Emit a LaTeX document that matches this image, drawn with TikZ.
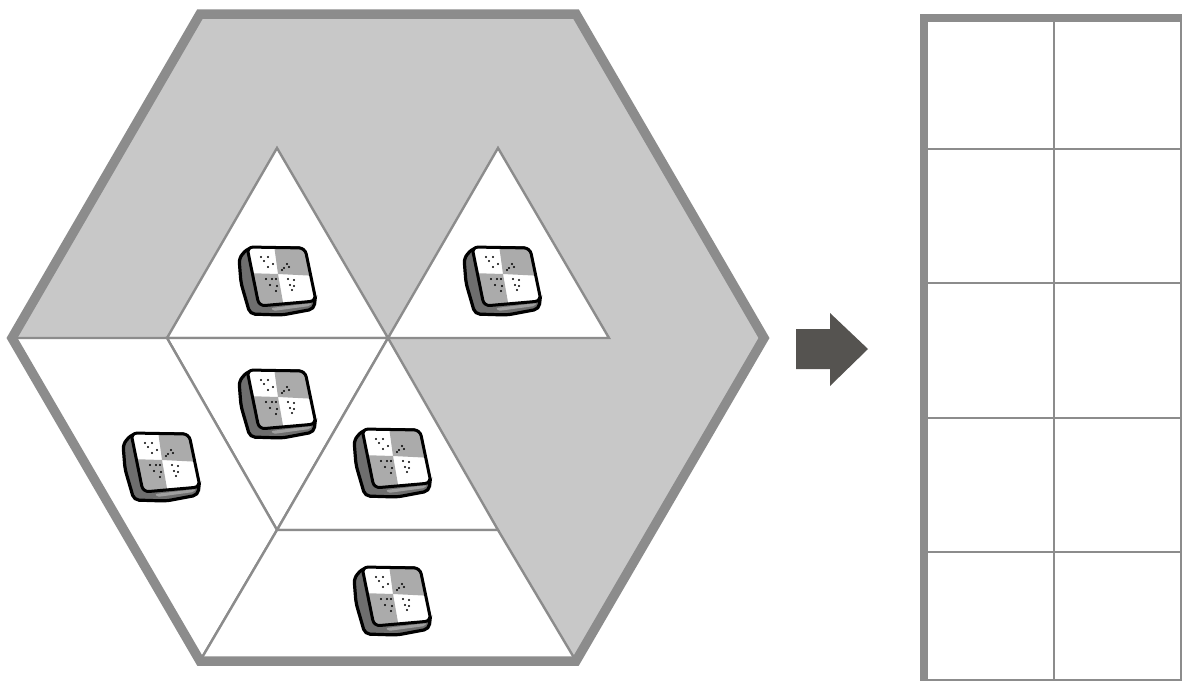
\documentclass[tikz,border=0pt]{standalone}
\tikzset{
	cell/.style={draw=gridgray, line width=2.4*0.05cm, fill=white, line join=miter},
	rim/.style={draw=gridgray, line width=8.5*0.05cm, line join=miter},
	hexrim/.style={draw=gridgray, line width=9.5*0.05cm, line join=miter},
	thinline/.style={gridgray, line width=2.4*0.05cm},
	chip/.pic={
		\filldraw[fill=chipdark, draw=black, line width=3.2*0.05cm, rounded corners=5*0.05cm] (-29,-32) -- (-38,-22) -- (-36,3) -- (-27,34) -- (5,35) -- (37,29) -- (38,20) -- (27,-32) -- cycle;
		\fill[chiplight, rounded corners=2*0.05cm] (-4,31) -- (33,26) -- (35,23) -- (-6,28) -- cycle;
		\begin{scope}
			\clip[rounded corners=6*0.05cm] (-30,-33) -- (28,-32) -- (39,21) -- (-18,26) -- cycle;
			\fill[white] (-32,-35) rectangle (41,28);
			\fill[chipgray] (-3,-35) -- (41,-35) -- (41,-4) -- (1,-6) -- cycle;
			\fill[chipgray] (1,-6) -- (-32,-7) -- (-32,28) -- (7,28) -- cycle;
		\end{scope}
		\draw[black, line width=3*0.05cm, rounded corners=6*0.05cm] (-30,-33) -- (28,-32) -- (39,21) -- (-18,26) -- cycle;
		\foreach \x/\y in {-16/-23,-9/-23,-13/-19,-4/-16,-9/-13,10/-16,12/-13,7/-12,5/-10,-11/-1,-5/-1,-1/-1,-7/5,0/6,-1/11,11/-1,17/0,13/5,17/6,15/10} \fill[black] (\x,\y) circle (1.2);
	}
}
\definecolor{gridgray}{HTML}{8C8C8C}
\definecolor{hexfill}{HTML}{C8C8C8}
\definecolor{arrowgray}{HTML}{555350}
\definecolor{chipgray}{HTML}{ABABAB}
\definecolor{chipdark}{HTML}{6E6E6E}
\definecolor{chiplight}{HTML}{A0A0A0}
\begin{document}
\begin{tikzpicture}[x=0.05cm, y=-0.05cm]
	\useasboundingbox (0,0) rectangle (1182,681);

	\coordinate (hl) at (12,338);
	\coordinate (htl) at (200,14);
	\coordinate (htr) at (576,14);
	\coordinate (hr) at (764,338);
	\coordinate (hbr) at (576,661);
	\coordinate (hbl) at (200,661);
	\coordinate (a) at (277,148);
	\coordinate (b) at (498,148);
	\coordinate (c) at (167,338);
	\coordinate (d) at (388,338);
	\coordinate (e) at (609,338);
	\coordinate (f) at (277,530);
	\coordinate (g) at (498,530);

	\fill[hexfill] (hl) -- (htl) -- (htr) -- (hr) -- (hbr) -- (hbl) -- cycle;
	\path[cell] (a) -- (c) -- (d) -- cycle;
	\path[cell] (b) -- (d) -- (e) -- cycle;
	\path[cell] (c) -- (d) -- (f) -- cycle;
	\path[cell] (d) -- (f) -- (g) -- cycle;
	\path[cell] (hl) -- (c) -- (f) -- (hbl) -- cycle;
	\path[cell] (f) -- (g) -- (hbr) -- (hbl) -- cycle;
	\draw[hexrim] (hl) -- (htl) -- (htr) -- (hr) -- (hbr) -- (hbl) -- cycle;

	\pic at (277,280) {chip};
	\pic at (502,280) {chip};
	\pic at (277,403) {chip};
	\pic at (161,466) {chip};
	\pic at (392,462) {chip};
	\pic at (392,600) {chip};

	\fill[arrowgray] (796,329) -- (830,329) -- (830,313) -- (868,349) -- (830,386) -- (830,369) -- (796,369) -- cycle;

	\coordinate (gtl) at (924,18);
	\coordinate (gtr) at (1182,18);
	\coordinate (gbl) at (924,681);
	\draw[thinline] (1054,18) -- (1054,681);
	\draw[thinline] (1181,18) -- (1181,681);
	\foreach \y in {149,283,418,552,680} \draw[thinline] (924,\y) -- (1182,\y);
	\draw[rim] (gbl) -- (gtl) -- (gtr);
\end{tikzpicture}
\end{document}
